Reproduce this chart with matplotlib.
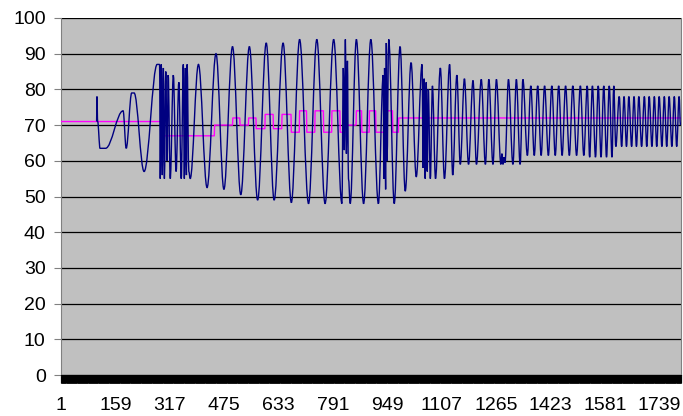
import matplotlib
matplotlib.use("Agg")
import matplotlib.pyplot as plt
import numpy as np
from matplotlib.path import Path
from matplotlib.patches import PathPatch

plt.rcParams['font.family'] = ['Liberation Sans', 'DejaVu Sans']

N = 1802  # number of categories on the x axis

blue_x = [104, 105, 107, 114, 130, 181, 190, 206, 213, 242, 280, 287,
          289, 292, 295, 298, 301, 305, 309, 312, 318, 327, 335, 343, 350, 356, 359, 362, 365, 367, 372, 376,
          400, 425, 451, 474, 499, 523, 548, 572, 597, 620, 646, 670, 694, 720, 744, 768, 793, 817,
          821, 824, 827, 830, 833, 836, 841, 859, 880, 901, 923,
          937, 939, 941, 944, 946, 948, 953, 969, 986, 1001, 1018, 1033, 1050,
          1053, 1056, 1059, 1062, 1065, 1068, 1074, 1080, 1089, 1103, 1115, 1130, 1139, 1151, 1161, 1173, 1185, 1198, 1208, 1222, 1234, 1244, 1256, 1266,
          1279, 1282, 1285, 1288, 1291, 1301, 1314, 1324, 1335, 1343,
          1356, 1366, 1376, 1386, 1396, 1406, 1417, 1427, 1437, 1447, 1457, 1467, 1478, 1488, 1499, 1510, 1520, 1530,
          1537, 1545, 1554, 1562, 1570, 1578, 1586, 1594, 1602, 1607, 1613,
          1623, 1630, 1637, 1644, 1651, 1659, 1666, 1673, 1680, 1688, 1696, 1703, 1710, 1718, 1725, 1732, 1739, 1747, 1754, 1761, 1768, 1776, 1783, 1790, 1797, 1801]
blue_y = [71, 78, 71, 63.5, 63.5, 74, 63.5, 79, 79, 57, 87, 87,
          55, 87, 56, 86, 55, 85, 60, 84, 55, 84, 57, 82, 55, 87, 55, 86, 56, 87, 57, 55,
          87, 52.5, 90, 52, 92, 50.5, 92, 49, 93, 49, 93, 48.3, 94, 48, 94, 48, 94, 48,
          86, 63, 94, 62, 88, 55, 48, 94, 48, 94, 48,
          84, 55, 86, 52, 93, 60, 94, 48, 92, 51.5, 87.5, 55.5, 87,
          58, 83, 55, 82, 57, 80, 55, 81, 55, 86, 55, 87, 56, 84, 59, 83, 59, 82.5, 59, 82.8, 59, 82.8, 59, 82.8,
          59, 62, 59, 61, 59.5, 82.8, 59, 82.8, 59, 82.8,
          61.5, 81, 61.5, 81, 61.5, 81, 61.5, 81, 61.5, 81, 61.5, 81, 61.5, 81, 61.5, 81, 61.5, 81,
          61, 81, 61, 81, 61, 81, 61, 81, 61, 81, 64,
          78, 64, 78, 64, 78, 64, 78, 64, 78, 64, 78, 64, 78, 64, 78, 64, 78, 64, 78, 64, 78, 64, 78, 64, 78, 70]

# magenta series: step levels and the category where each level starts
mag_start = [1, 293, 447, 500, 521, 546, 568, 594, 618, 643, 670, 694, 715, 739, 764, 788,
             812, 824, 832, 859, 875, 897, 916, 941, 965, 982]
mag_level = [71, 67, 70, 72, 70, 72, 69, 73, 69, 73, 68, 74, 68, 74, 68, 74,
             68, 74, 70, 74, 68, 74, 68, 74, 68, 72]

tick_labels = [1, 159, 317, 475, 633, 791, 949, 1107, 1265, 1423, 1581, 1739]

assert len(blue_x) == len(blue_y)
assert len(mag_start) == len(mag_level)

cats = np.arange(1, N + 1)
mag = np.repeat(mag_level, np.diff(mag_start + [N + 1]))


def smooth_path(xs, ys, k=0.3642):
    # join turning points with flat-tangent bezier segments (smoothed line look)
    verts = [(xs[0], ys[0])]
    codes = [Path.MOVETO]
    for x0, y0, x1, y1 in zip(xs[:-1], ys[:-1], xs[1:], ys[1:]):
        dx = x1 - x0
        verts += [(x0 + k * dx, y0), (x1 - k * dx, y1), (x1, y1)]
        codes += [Path.CURVE4] * 3
    return Path(verts, codes)


fig = plt.figure(figsize=(6.83, 4.16), dpi=100)
ax = fig.add_axes([61 / 683, 1 - 375 / 416, 620 / 683, 357 / 416])
ax.set_facecolor('#c0c0c0')

ax.plot(cats, mag, color='#ff00ff', lw=1.0, zorder=3)
ax.add_patch(PathPatch(smooth_path(blue_x, blue_y), fill=False,
                       edgecolor='#000080', lw=1.0, zorder=4))

ax.set_xlim(0.5, N + 0.5)
ax.set_ylim(0, 100)
ax.set_yticks(np.arange(0, 101, 10))
ax.yaxis.grid(True, color='black', lw=0.9)
ax.set_axisbelow(True)

ax.set_xticks(tick_labels)
ax.set_xticklabels([str(t) for t in tick_labels])
ax.set_xticks(np.arange(0.5, N + 1, 1), minor=True)
ax.tick_params(axis='x', which='major', length=0, pad=16, labelsize=14)
ax.tick_params(axis='x', which='minor', length=6, width=0.8, color='black')
ax.tick_params(axis='y', length=5, color='#808080', pad=6, labelsize=14)

ax.spines['top'].set_visible(False)
ax.spines['left'].set_color('#808080')
ax.spines['right'].set_color('#808080')
ax.spines['bottom'].set_color('black')

fig.savefig('out.png', dpi=100)
